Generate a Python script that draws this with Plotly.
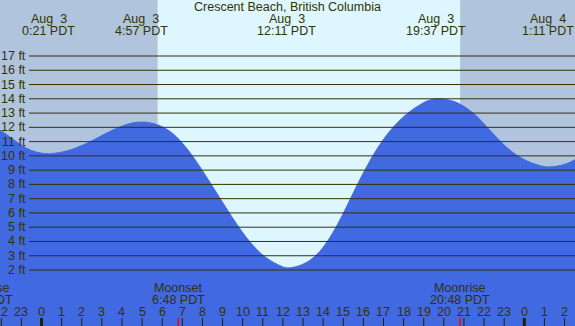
import plotly.graph_objects as go

# ---------------- data ----------------
# hours since Aug 3 00:00 PDT, tide height in feet
tide_hours = [-2.2, -2.0, -1.5, -1.0, -0.5, 0.0, 0.35, 1.0, 1.5, 2.0, 2.5, 3.0, 3.5, 4.0,
              4.5, 4.95, 5.45, 5.95, 6.45, 6.95, 7.45, 7.95, 8.45, 8.95, 9.45, 9.95,
              10.45, 10.95, 11.45, 11.95, 12.18, 12.7, 13.2, 13.7, 14.2, 14.7, 15.2, 15.7,
              16.2, 16.7, 17.2, 17.7, 18.2, 18.7, 19.2, 19.62, 20.12, 20.62, 21.12, 21.62,
              22.12, 22.62, 23.12, 23.62, 24.12, 24.62, 25.18, 26.0, 26.6]
tide_feet = [11.9, 11.75, 11.25, 10.75, 10.38, 10.19, 10.15, 10.26, 10.45, 10.72, 11.05,
             11.42, 11.78, 12.08, 12.3, 12.37, 12.3, 12.07, 11.65, 10.97, 10.1, 9.07, 7.97,
             6.85, 5.75, 4.72, 3.82, 3.1, 2.6, 2.25, 2.15, 2.25, 2.55, 3.1, 3.98, 5.15,
             6.53, 7.98, 9.33, 10.53, 11.53, 12.33, 12.98, 13.48, 13.86, 14.0, 13.95,
             13.75, 13.35, 12.8, 12.05, 11.3, 10.6, 10.05, 9.65, 9.38, 9.22, 9.4, 9.78]

extreme_hours = [0.35, 4.95, 12.18, 19.62, 25.18]
extreme_dates = ["Aug  3", "Aug  3", "Aug  3", "Aug  3", "Aug  4"]
extreme_times = ["0:21 PDT", "4:57 PDT", "12:11 PDT", "19:37 PDT", "1:11 PDT"]

moon_hours = [-2.9, 6.8, 20.8]
moon_events = ["Moonrise", "Moonset", "Moonrise"]
moon_times = ["21:06 PDT", "6:48 PDT", "20:48 PDT"]

sunrise_hour = 5.77
sunset_hour = 20.81

hour_ticks = list(range(-2, 27))
hour_labels = [str(h % 24) for h in hour_ticks]
ft_levels = list(range(2, 18))
ft_labels = [f"{v} ft" for v in ft_levels]

title_text = "Crescent Beach, British Columbia"

# ---------------- style / layout ----------------
W, H = 575, 326
x_range = [-2.063, 26.52]
y_range = [-1.925, 20.925]

DAY = "#ddf6ff"
NIGHT = "#b0c4de"
WATER = "#4169e1"
INK = "#333300"
FONT = dict(family="Liberation Sans, Arial, sans-serif", size=12.5, color=INK)


def py(p):  # pixel row -> paper y
    return 1 - p / H


def px(p):  # pixel column -> paper x
    return p / W


def hx(h):  # hour -> paper x
    return (h - x_range[0]) / (x_range[1] - x_range[0])


fig = go.Figure()
fig.add_trace(go.Scatter(x=tide_hours, y=[y_range[0]] * len(tide_hours), mode="lines",
                         line=dict(width=0, color=WATER), hoverinfo="skip"))
fig.add_trace(go.Scatter(x=tide_hours, y=tide_feet, mode="lines", fill="tonexty",
                         fillcolor=WATER, line=dict(color=WATER, width=1, shape="spline",
                                                    smoothing=1.0),
                         hoverinfo="skip"))

shapes = []
shapes.append(dict(type="rect", xref="x", yref="paper", x0=x_range[0] - 1, x1=sunrise_hour,
                   y0=0, y1=1, fillcolor=NIGHT, line=dict(width=0), layer="below"))
shapes.append(dict(type="rect", xref="x", yref="paper", x0=sunset_hour, x1=x_range[1] + 1,
                   y0=0, y1=1, fillcolor=NIGHT, line=dict(width=0), layer="below"))
for lv in ft_levels:
    shapes.append(dict(type="line", xref="paper", yref="y", x0=px(29), x1=1, y0=lv, y1=lv,
                       line=dict(color=INK, width=1), layer="above"))
for h in hour_ticks:
    shapes.append(dict(type="line", xref="x", yref="paper", x0=h, x1=h, y0=0, y1=py(318),
                       line=dict(color="#222200", width=3 if h % 24 == 0 else 1),
                       layer="above"))
for h in moon_hours:
    shapes.append(dict(type="line", xref="x", yref="paper", x0=h, x1=h, y0=0, y1=py(318),
                       line=dict(color="#ff0000", width=1.5), layer="above"))

ann = []
ann.append(dict(text=title_text, xref="paper", yref="paper", x=0.5, y=py(7.5),
                xanchor="center", yanchor="middle", showarrow=False, font=FONT))
for h, d, t in zip(extreme_hours, extreme_dates, extreme_times):
    ann.append(dict(text=d, xref="paper", yref="paper", x=hx(h), y=py(19.5),
                    xanchor="center", yanchor="middle", showarrow=False, font=FONT))
    ann.append(dict(text=t, xref="paper", yref="paper", x=hx(h), y=py(31),
                    xanchor="center", yanchor="middle", showarrow=False, font=FONT))
for h, e, t in zip(moon_hours, moon_events, moon_times):
    ann.append(dict(text=e, xref="paper", yref="paper", x=hx(h), y=py(288),
                    xanchor="center", yanchor="middle", showarrow=False, font=FONT))
    ann.append(dict(text=t, xref="paper", yref="paper", x=hx(h), y=py(300),
                    xanchor="center", yanchor="middle", showarrow=False, font=FONT))
for h, lab in zip(hour_ticks, hour_labels):
    ann.append(dict(text=lab, xref="paper", yref="paper", x=hx(h), y=py(312),
                    xanchor="center", yanchor="middle", showarrow=False, font=FONT))
for lv, lab in zip(ft_levels, ft_labels):
    ann.append(dict(text=lab, xref="paper", yref="y", x=px(28), y=lv,
                    xanchor="right", yanchor="middle", showarrow=False, font=FONT))

fig.update_layout(
    width=W, height=H, autosize=False,
    margin=dict(l=0, r=0, t=0, b=0, pad=0),
    paper_bgcolor=DAY, plot_bgcolor=DAY,
    showlegend=False,
    xaxis=dict(range=x_range, visible=False, fixedrange=True),
    yaxis=dict(range=y_range, visible=False, fixedrange=True),
    shapes=shapes, annotations=ann,
)

fig.write_html("out.html", config={"displayModeBar": False},
               post_script="document.body.style.margin='0';document.body.style.overflow='hidden';")
